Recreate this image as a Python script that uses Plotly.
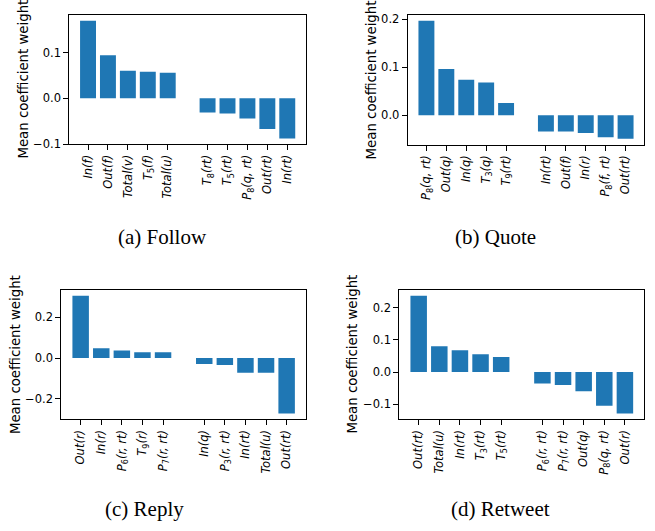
import plotly.graph_objects as go

W, H = 655, 531

# ---------------- data ----------------
follow_labels = ["<i>In(f)</i>", "<i>Out(f)</i>", "<i>Total(v)</i>", "<i>T</i><sub>5</sub><i>(f)</i>", "<i>Total(u)</i>",
                 "<i>T</i><sub>8</sub><i>(rt)</i>", "<i>T</i><sub>5</sub><i>(rt)</i>", "<i>P</i><sub>8</sub><i>(q, rt)</i>",
                 "<i>Out(rt)</i>", "<i>In(rt)</i>"]
follow_values = [0.1695, 0.094, 0.060, 0.058, 0.056, -0.031, -0.033, -0.044, -0.067, -0.0875]

quote_labels = ["<i>P</i><sub>8</sub><i>(q, rt)</i>", "<i>Out(q)</i>", "<i>In(q)</i>", "<i>T</i><sub>3</sub><i>(q)</i>",
                "<i>T</i><sub>9</sub><i>(rt)</i>", "<i>In(rt)</i>", "<i>Out(f)</i>", "<i>In(r)</i>",
                "<i>P</i><sub>8</sub><i>(f, rt)</i>", "<i>Out(rt)</i>"]
quote_values = [0.1966, 0.096, 0.0738, 0.0678, 0.0255, -0.034, -0.034, -0.037, -0.046, -0.049]

reply_labels = ["<i>Out(r)</i>", "<i>In(r)</i>", "<i>P</i><sub>6</sub><i>(r, rt)</i>", "<i>T</i><sub>9</sub><i>(r)</i>",
                "<i>P</i><sub>7</sub><i>(r, rt)</i>", "<i>In(q)</i>", "<i>P</i><sub>3</sub><i>(r, rt)</i>",
                "<i>In(rt)</i>", "<i>Total(u)</i>", "<i>Out(rt)</i>"]
reply_values = [0.307, 0.048, 0.038, 0.029, 0.029, -0.029, -0.034, -0.072, -0.072, -0.272]

retweet_labels = ["<i>Out(rt)</i>", "<i>Total(u)</i>", "<i>In(rt)</i>", "<i>T</i><sub>3</sub><i>(rt)</i>",
                  "<i>T</i><sub>5</sub><i>(rt)</i>", "<i>P</i><sub>6</sub><i>(r, rt)</i>", "<i>P</i><sub>7</sub><i>(r, rt)</i>",
                  "<i>Out(q)</i>", "<i>P</i><sub>8</sub><i>(q, rt)</i>", "<i>Out(r)</i>"]
retweet_values = [0.237, 0.0797, 0.0676, 0.0555, 0.0464, -0.0355, -0.0405, -0.0597, -0.1048, -0.1285]

bar_positions = [0, 1, 2, 3, 4, 6, 7, 8, 9, 10]
captions = ["(a) Follow", "(b) Quote", "(c) Reply", "(d) Retweet"]
y_dticks = [0.1, 0.1, 0.2, 0.1]

panels = [
    (follow_labels, follow_values),
    (quote_labels, quote_values),
    (reply_labels, reply_values),
    (retweet_labels, retweet_values),
]

# ---------------- layout (pixels) ----------------
boxes = [  # left, right, top, bottom
    (69.3, 306.0, 12.0, 144.0),
    (407.7, 644.3, 12.0, 144.3),
    (61.3, 306.0, 292.3, 424.3),
    (399.3, 644.3, 292.3, 424.3),
]
ytitle_x = [24.0, 371.7, 15.5, 353.0]
caption_pos = [(162.5, 238.3), (495.5, 238.3), (144.0, 516.0), (500.5, 516.0)]

BLUE = "#1f77b4"
TICKFONT = dict(family="DejaVu Sans", size=11.5, color="black")

fig = go.Figure()
layout = dict(
    width=W, height=H, margin=dict(l=0, r=0, t=0, b=0),
    paper_bgcolor="white", plot_bgcolor="white", showlegend=False,
    annotations=[],
)

for i, ((labels, values), (l, r, t, b)) in enumerate(zip(panels, boxes)):
    n = "" if i == 0 else str(i + 1)
    fig.add_trace(go.Bar(
        x=bar_positions, y=values, width=0.8, marker=dict(color=BLUE, line=dict(width=0)),
        xaxis="x" + n, yaxis="y" + n,
    ))
    vmin, vmax = min(min(values), 0), max(max(values), 0)
    span = vmax - vmin
    xmin, xmax = min(bar_positions) - 0.4, max(bar_positions) + 0.4
    xspan = xmax - xmin
    layout["xaxis" + n] = dict(
        domain=[l / W, r / W], anchor="y" + n,
        range=[xmin - 0.05 * xspan, xmax + 0.05 * xspan],
        tickvals=bar_positions, ticktext=labels, tickangle=-90,
        ticks="outside", ticklen=5, tickcolor="black", tickwidth=1,
        showline=True, linecolor="black", linewidth=1, mirror=True,
        showgrid=False, zeroline=False, tickfont=TICKFONT,
    )
    layout["yaxis" + n] = dict(
        domain=[1 - b / H, 1 - t / H], anchor="x" + n,
        range=[vmin - 0.05 * span, vmax + 0.05 * span],
        dtick=y_dticks[i], tick0=0, tickformat=".1f",
        ticks="outside", ticklen=5, tickcolor="black", tickwidth=1,
        showline=True, linecolor="black", linewidth=1, mirror=True,
        showgrid=False, zeroline=False, tickfont=TICKFONT,
    )
    layout["annotations"].append(dict(
        text="Mean coefficient weight", textangle=-90, showarrow=False,
        xref="paper", yref="paper", x=ytitle_x[i] / W, y=1 - ((t + b) / 2) / H,
        xanchor="center", yanchor="middle",
        font=dict(family="DejaVu Sans", size=13.3, color="black"),
    ))
    cx, cy = caption_pos[i]
    layout["annotations"].append(dict(
        text=captions[i], showarrow=False,
        xref="paper", yref="paper", x=cx / W, y=1 - cy / H,
        xanchor="center", yanchor="middle",
        font=dict(family="Liberation Serif", size=21, color="black"),
    ))

fig.update_layout(**layout)
fig.write_html(
    "out.html",
    config={"displayModeBar": False},
    post_script="document.body.style.margin='0';document.body.style.padding='0';document.body.style.overflow='hidden';",
)
